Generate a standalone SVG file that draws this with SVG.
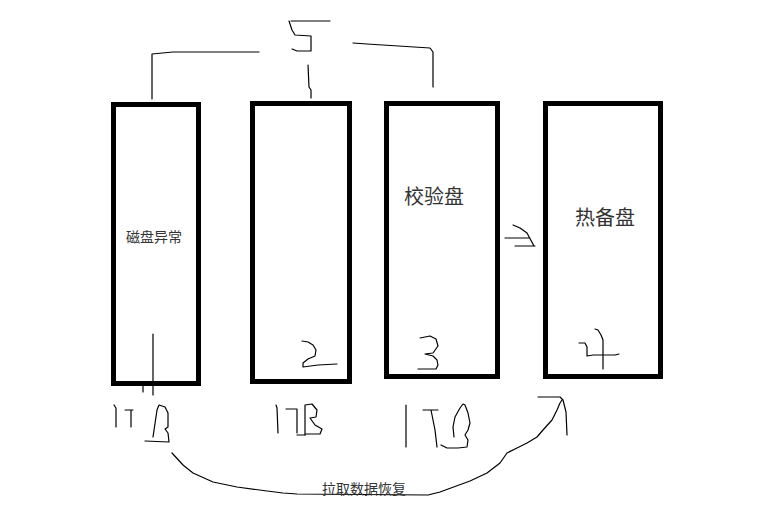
<svg xmlns="http://www.w3.org/2000/svg" width="762" height="527" viewBox="0 0 762 527">
<style>
.box{fill:#fff;stroke:#000;stroke-width:5}
.ink{fill:none;stroke:#000;stroke-width:1.2;stroke-linejoin:round;stroke-linecap:round}
.t{font-family:"Noto Sans CJK SC","Noto Sans",sans-serif;fill:#333;text-anchor:middle}
</style>
<rect width="762" height="527" fill="#fff"/>
<g id="disk1">
<rect class="box" x="113.5" y="104.5" width="85" height="279"/>
<text class="t" x="154" y="242" font-size="14">磁盘异常</text>
</g>
<g id="disk2">
<rect class="box" x="252.5" y="103.5" width="97" height="278"/>
<path class="ink" d="M302,341 L308,342 L313,345 L316,350 L315,356 L308,359 L303,363 L303,367 L318,365 L337,364"/>
</g>
<g id="disk3">
<rect class="box" x="386.5" y="103.5" width="111" height="273"/>
<text class="t" x="434" y="204" font-size="20">校验盘</text>
<path class="ink" d="M420,338 L430,336 L436,339 L438,346 L433,353 L425,354 L433,356 L437,360 L438,365 L436,369 L418,369"/>
</g>
<g id="disk4">
<rect class="box" x="545.5" y="103.5" width="115" height="273"/>
<text class="t" x="605" y="225" font-size="20">热备盘</text>
<path class="ink" d="M579,343 L585,343 L587,347 L587,356 L593,355 L615,355 L619,354"/>
<path class="ink" d="M595,329 L598,330 L601,335 L603,340 L603,369"/>
</g>
<g id="labels">
<path class="ink" d="M114,405 L116,408 L116,427"/>
<path class="ink" d="M125,410 L133,410 M131,410 L131,427"/>
<path class="ink" d="M153,437 L157,410 L159,405 L165,407 L168,413 L168,427 L165,429 L168,433 L169,442 L145,441"/>
<path class="ink" d="M276,405 L277,408 L278,433"/>
<path class="ink" d="M286,409 L297,409 L297,433 M297,435 L305,435"/>
<path class="ink" d="M305,405 L305,435 M305,405 L312,404 L317,410 L316,417 L310,418 L315,425 L322,429 L320,434 L305,434"/>
<path class="ink" d="M406,405 L406,447"/>
<path class="ink" d="M423,410 L438,410 M431,410 L435,430 L437,447"/>
<path class="ink" d="M441,445 L447,448 L458,448 L467,447 L468,440 L465,435 L468,430 L470,423 L468,413 L465,405 L463,404 L460,408 L455,417 L453,427 L454,437"/>
<path class="ink" d="M291,21 L330,21 M289,21 L292,30 L295,35 L311,36 L311,51 L297,51 L292,49"/>
</g>
<g id="connectors">
<path class="ink" d="M152,99 L152,54 L173,52 L259,52"/>
<path class="ink" d="M308,65 L309,87 L311,90 L311,98"/>
<path class="ink" d="M353,43 L367,44 L430,48 L433,52 L433,87"/>
<path class="ink" d="M153,334 L153,395 M143,386 L143,392"/>
<path class="ink" d="M172,453 L183,465 L193,473 L213,482 L237,487 L267,491 L283,493 L297,494 L428,495 L440,492 L470,481 L487,473 L500,463 L507,453 L517,448 L527,443 L537,437 L543,430 L552,420 L557,410 L560,403 L562,400"/>
<path class="ink" d="M538,397 L560,397 L563,400 L566,412 L567,435"/>
<path class="ink" d="M513,225 L520,228 L527,233 L534,246 M505,238 L530,238 M515,246 L535,246"/>
<text class="t" x="364" y="494" font-size="14">拉取数据恢复</text>
</g>
</svg>
